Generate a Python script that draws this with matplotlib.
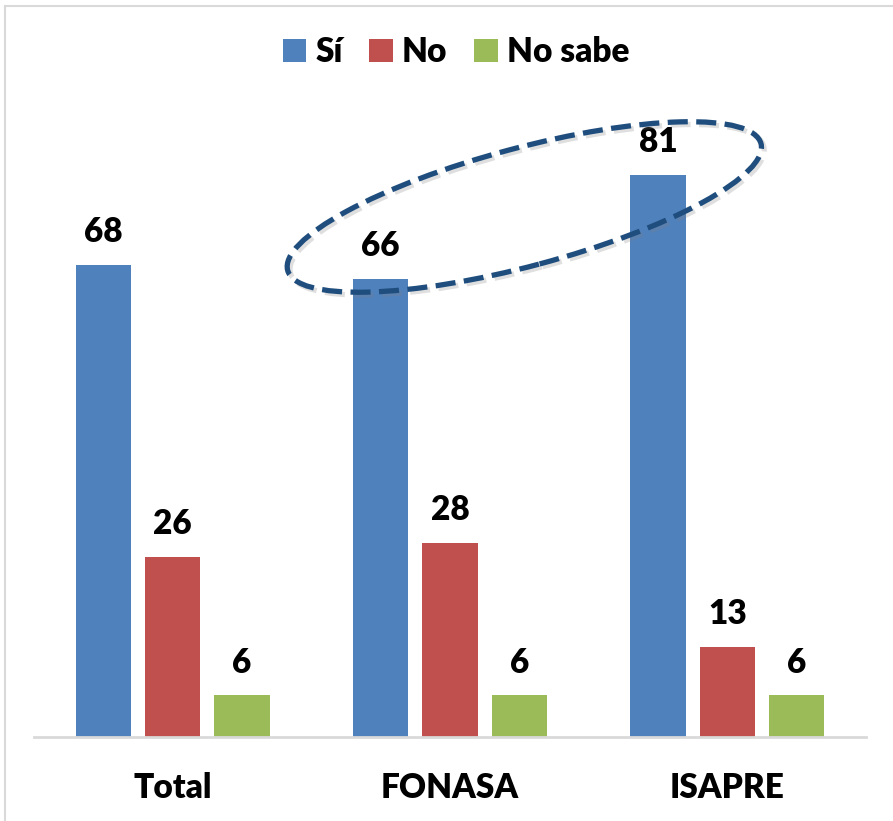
import matplotlib
matplotlib.use("Agg")
import matplotlib.pyplot as plt
from matplotlib.patches import Ellipse
from matplotlib.lines import Line2D
import matplotlib.patheffects as pe
import numpy as np

categories = ["Total", "FONASA", "ISAPRE"]
series_names = ["Sí", "No", "No sabe"]
si_values = [68, 66, 81]
no_values = [26, 28, 13]
nosabe_values = [6, 6, 6]
colors = ["#4F81BD", "#C0504D", "#9BBB59"]

plt.rcParams['font.family'] = ['Lato', 'DejaVu Sans']
FW = "heavy"
FS = 24

W, H = 893, 821
fig = plt.figure(figsize=(W / 100, H / 100), dpi=100)
ax = fig.add_axes([34 / W, (H - 737) / H, 832 / W, 637 / H])

x = np.arange(len(categories))
offsets = [-0.25, 0.0, 0.25]
width = 0.2
all_vals = [si_values, no_values, nosabe_values]
for vals, off, c, name in zip(all_vals, offsets, colors, series_names):
    ax.bar(x + off, vals, width=width, color=c, label=name, zorder=2)
    for xi, v in zip(x + off, vals):
        ax.annotate(str(v), (xi, v), xytext=(0, 12), textcoords="offset points",
                    ha="center", va="bottom", fontsize=FS, fontweight=FW)

ax.set_xlim(-0.5, 2.5)
ax.set_ylim(0, 91.8)
ax.set_yticks([])
ax.set_xticks(x)
ax.set_xticklabels(categories, fontsize=FS, fontweight=FW)
ax.tick_params(axis="x", length=0, pad=25)
for s in ["top", "right", "left"]:
    ax.spines[s].set_visible(False)
ax.spines["bottom"].set_color("#D9D9D9")
ax.spines["bottom"].set_linewidth(2)

leg = fig.legend(loc="center", bbox_to_anchor=(456 / W, 1 - 52 / H), ncol=3,
                 frameon=False, prop={"size": FS, "weight": FW},
                 handlelength=0.7, handleheight=0.7, handletextpad=0.28,
                 columnspacing=0.8)

# Highlight ellipse around Sí values for FONASA and ISAPRE
fig.canvas.draw()
p1 = ax.transData.transform((x[1] + offsets[0], si_values[1]))
p2 = ax.transData.transform((x[2] + offsets[0], si_values[2]))
cx = (p1[0] + p2[0]) / 2 + 5
cy = (p1[1] + p2[1]) / 2 + 20
ell = Ellipse((cx, cy), width=490, height=118, angle=15.0,
              transform=None, fill=False, edgecolor="#1F4E7E",
              linewidth=3.8, linestyle=(0, (3.8, 1.6)), zorder=5,
              path_effects=[pe.SimpleLineShadow(offset=(2, -2), alpha=0.25, shadow_color="gray"),
                            pe.Normal()])
fig.patches.append(ell)
ell.set_figure(fig)

# Chart border (top and left)
fig.add_artist(Line2D([4.5 / W, 1], [1 - 6.5 / H, 1 - 6.5 / H], color="#D9D9D9", lw=1.5, transform=fig.transFigure))
fig.add_artist(Line2D([4.5 / W, 4.5 / W], [0, 1 - 6.5 / H], color="#D9D9D9", lw=1.5, transform=fig.transFigure))

fig.savefig("out.png", dpi=100)
